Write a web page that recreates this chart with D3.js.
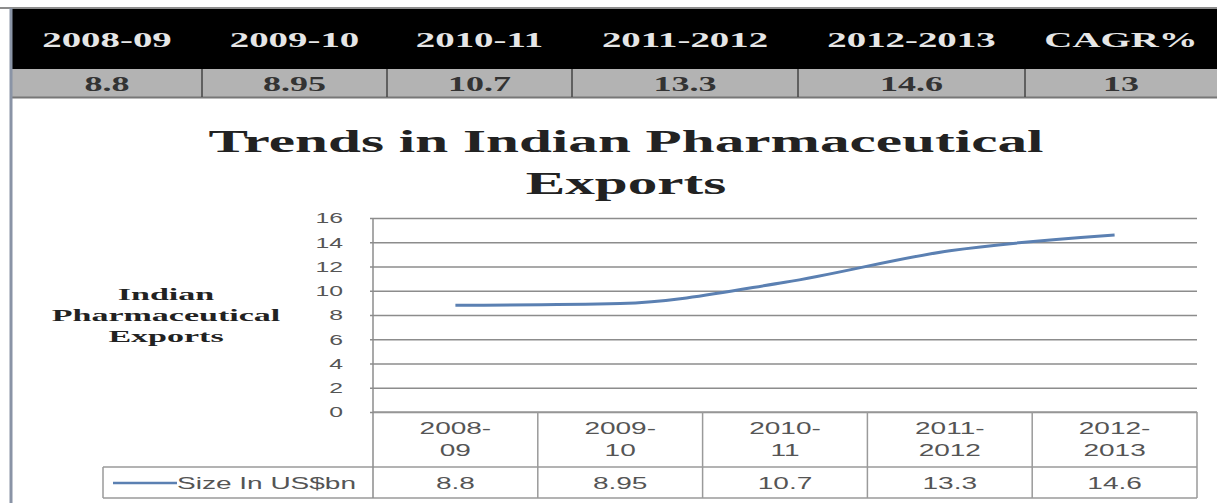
<!DOCTYPE html>
<html>
<head>
<meta charset="utf-8">
<script src="https://cdn.jsdelivr.net/npm/d3@7"></script>
<style>
  body { margin: 0; background: #fff; }
  svg { display: block; }
  .serif { font-family: "Liberation Serif", "Times New Roman", serif; font-weight: bold; }
  .sans { font-family: "Liberation Sans", Arial, sans-serif; }
</style>
</head>
<body>
<div id="chart"></div>
<script>
// data
const headYears = ["2008-09", "2009-10", "2010-11", "2011-2012", "2012-2013", "CAGR%"];
const headValues = ["8.8", "8.95", "10.7", "13.3", "14.6", "13"];
const categories = [["2008-", "09"], ["2009-", "10"], ["2010-", "11"], ["2011-", "2012"], ["2012-", "2013"]];
const exportsBn = [8.8, 8.95, 10.7, 13.3, 14.6];
const seriesName = "Size In US$bn";
const yTicks = [0, 2, 4, 6, 8, 10, 12, 14, 16];

const W = 1217, H = 503;
const svg = d3.select("#chart").append("svg").attr("width", W).attr("height", H);

// the source picture is stretched sideways, so text is widened to match
function stretch(sel, k) {
  sel.each(function() {
    const len = this.getComputedTextLength();
    d3.select(this).attr("textLength", len * k).attr("lengthAdjust", "spacingAndGlyphs");
  });
}

// ---- top table ----
const colEdges = [12, 202, 387, 572, 798, 1025, 1217];
const hx = d3.scaleOrdinal().domain(headYears).range(colEdges.slice(0, -1));
const hw = (d, i) => colEdges[i + 1] - colEdges[i];

svg.append("line").attr("x1", 0).attr("x2", W).attr("y1", 8).attr("y2", 8)
  .attr("stroke", "#8c8c8c").attr("stroke-width", 2);
svg.append("rect").attr("x", 12).attr("y", 9).attr("width", W - 12).attr("height", 60).attr("fill", "#000");
svg.append("rect").attr("x", 12).attr("y", 69).attr("width", W - 12).attr("height", 28).attr("fill", "#b3b3b3");
svg.append("line").attr("x1", 12).attr("x2", W).attr("y1", 97.5).attr("y2", 97.5)
  .attr("stroke", "#777").attr("stroke-width", 2);

svg.selectAll(".hsep").data(colEdges.slice(1, -1)).join("line")
  .attr("x1", d => d).attr("x2", d => d).attr("y1", 69).attr("y2", 97)
  .attr("stroke", "#444").attr("stroke-width", 1.5);

const headText = svg.selectAll(".htxt").data(headYears).join("text")
  .attr("class", "serif")
  .attr("x", (d, i) => hx(d) + hw(d, i) / 2)
  .attr("y", 47)
  .attr("text-anchor", "middle")
  .attr("font-size", 21)
  .attr("fill", "#e6e6e6")
  .text(d => d);
stretch(headText, 1.85);

const headVal = svg.selectAll(".hval").data(headValues).join("text")
  .attr("class", "serif")
  .attr("x", (d, i) => colEdges[i] + (colEdges[i + 1] - colEdges[i]) / 2)
  .attr("y", 91)
  .attr("text-anchor", "middle")
  .attr("font-size", 20)
  .attr("fill", "#333")
  .text(d => d);
stretch(headVal, 1.8);

// left frame edge
svg.append("line").attr("x1", 11).attr("x2", 11).attr("y1", 8).attr("y2", H)
  .attr("stroke", "#8a94a6").attr("stroke-width", 3);

// ---- title ----
const title = svg.append("text").attr("class", "serif")
  .attr("text-anchor", "middle").attr("font-size", 32).attr("fill", "#222");
title.append("tspan").attr("x", 626).attr("y", 152).text("Trends in Indian Pharmaceutical");
title.append("tspan").attr("x", 626).attr("y", 194).text("Exports");
stretch(title.selectAll("tspan"), 1.85);

// ---- chart ----
const plot = { left: 373, right: 1197, top: 218, bottom: 412 };
const x = d3.scaleBand().domain(categories.map(c => c.join(""))).range([plot.left, plot.right]);
const y = d3.scaleLinear().domain([0, 16]).range([plot.bottom, plot.top]);

// gridlines
svg.append("g")
  .attr("transform", `translate(${plot.left},0)`)
  .call(d3.axisLeft(y).tickValues(yTicks).tickSize(-(plot.right - plot.left + 3)).tickFormat(""))
  .call(g => g.select(".domain").remove())
  .call(g => g.selectAll("line").attr("stroke", "#8c8c8c").attr("stroke-width", 1.5)
    .attr("transform", "translate(-3,0)"));

// y tick labels
const yAxis = svg.append("g")
  .attr("transform", `translate(${plot.left},0)`)
  .call(d3.axisLeft(y).tickValues(yTicks).tickSize(0).tickPadding(30))
  .call(g => g.select(".domain").remove());
yAxis.selectAll("text")
  .attr("class", "sans").attr("font-size", 15).attr("fill", "#555");
stretch(yAxis.selectAll("text"), 1.65);

// y axis title
const yTitle = svg.append("text").attr("class", "serif")
  .attr("text-anchor", "middle").attr("font-size", 17).attr("fill", "#222");
["Indian", "Pharmaceutical", "Exports"].forEach((t, i) => {
  yTitle.append("tspan").attr("x", 166).attr("y", 300 + i * 21).text(t);
});
stretch(yTitle.selectAll("tspan"), 2.0);

// data table under the plot
const tbl = { row1: plot.bottom, row2: 467, bottom: 498, legendLeft: 103 };
const tGrid = svg.append("g").attr("stroke", "#9a9a9a").attr("stroke-width", 1.5).attr("fill", "none");
tGrid.append("line").attr("x1", plot.left).attr("x2", plot.right).attr("y1", tbl.row1).attr("y2", tbl.row1);
tGrid.append("line").attr("x1", tbl.legendLeft).attr("x2", plot.right).attr("y1", tbl.row2).attr("y2", tbl.row2);
tGrid.append("line").attr("x1", tbl.legendLeft).attr("x2", plot.right).attr("y1", tbl.bottom).attr("y2", tbl.bottom);
tGrid.append("line").attr("x1", tbl.legendLeft).attr("x2", tbl.legendLeft).attr("y1", tbl.row2).attr("y2", tbl.bottom);
tGrid.selectAll(".vsep").data(x.domain()).join("line")
  .attr("x1", d => x(d) + x.bandwidth()).attr("x2", d => x(d) + x.bandwidth())
  .attr("y1", tbl.row1).attr("y2", tbl.bottom);
// value axis line
tGrid.append("line").attr("x1", plot.left).attr("x2", plot.left)
  .attr("y1", plot.top).attr("y2", tbl.bottom).attr("stroke", "#8c8c8c");

const catText = svg.selectAll(".cat").data(categories).join("text")
  .attr("class", "sans").attr("text-anchor", "middle").attr("font-size", 16).attr("fill", "#555");
catText.each(function(c) {
  const cx = x(c.join("")) + x.bandwidth() / 2;
  c.forEach((part, i) => {
    d3.select(this).append("tspan").attr("x", cx).attr("y", 434 + i * 22).text(part);
  });
});
stretch(catText.selectAll("tspan"), 1.75);

const valText = svg.selectAll(".val").data(exportsBn).join("text")
  .attr("class", "sans").attr("text-anchor", "middle").attr("font-size", 16).attr("fill", "#555")
  .attr("x", (d, i) => x(categories[i].join("")) + x.bandwidth() / 2)
  .attr("y", 489)
  .text(d => d);
stretch(valText, 1.75);

// legend key in the table
const lineColor = "#5b80b2";
svg.append("line").attr("x1", 113).attr("x2", 177).attr("y1", 483).attr("y2", 483)
  .attr("stroke", lineColor).attr("stroke-width", 2.5);
const legText = svg.append("text").attr("class", "sans")
  .attr("x", 177).attr("y", 489).attr("font-size", 16).attr("fill", "#555").text(seriesName);
stretch(legText, 1.75);

// series line
const line = d3.line()
  .x((d, i) => x(categories[i].join("")) + x.bandwidth() / 2)
  .y(d => y(d))
  .curve(d3.curveMonotoneX);
svg.append("path").datum(exportsBn)
  .attr("d", line)
  .attr("fill", "none")
  .attr("stroke", lineColor)
  .attr("stroke-width", 3);
</script>
</body>
</html>
